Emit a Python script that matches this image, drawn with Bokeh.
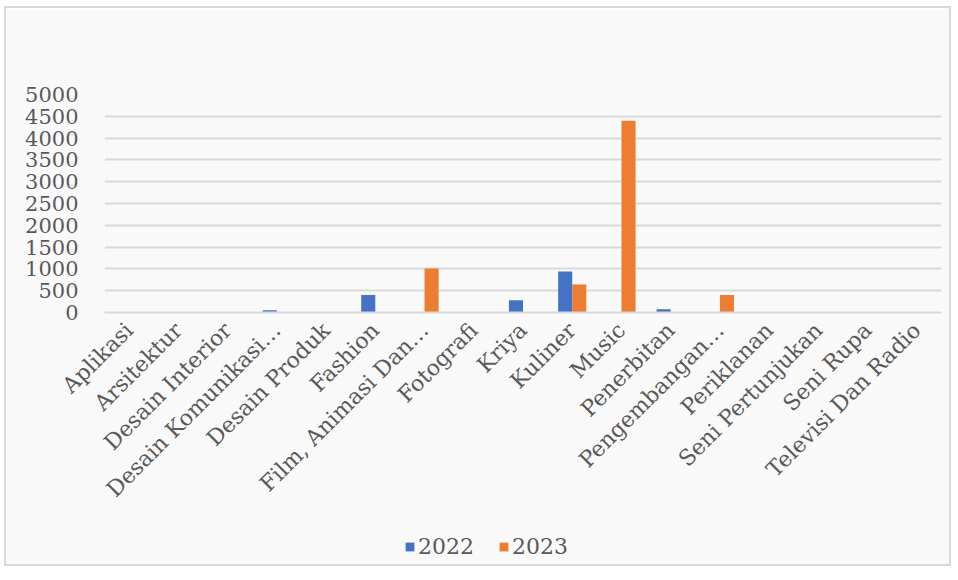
import math
from bokeh.plotting import figure
from bokeh.layouts import column
from bokeh.models import ColumnDataSource, Legend, LegendItem, FactorRange, SingleIntervalTicker
from bokeh.transform import dodge
from bokeh.embed import file_html
from bokeh.resources import INLINE

categories = ["Aplikasi", "Arsitektur", "Desain Interior", "Desain Komunikasi\u2026",
              "Desain Produk", "Fashion", "Film, Animasi Dan\u2026", "Fotografi",
              "Kriya", "Kuliner", "Music", "Penerbitan", "Pengembangan\u2026",
              "Periklanan", "Seni Pertunjukan", "Seni Rupa", "Televisi Dan Radio"]
v2022 = [0, 0, 0, 50, 0, 400, 0, 0, 280, 940, 0, 75, 0, 0, 0, 0, 0]
v2023 = [0, 0, 0, 0, 0, 0, 1010, 0, 0, 640, 4400, 0, 400, 0, 0, 0, 0]
series = ["2022", "2023"]
colors = ["#4472C4", "#ED7D31"]

src = ColumnDataSource(dict(cat=categories, v2022=v2022, v2023=v2023))

FONT = "DejaVu Serif"
TXT = "#595959"
BG = "#F9F9F9"

p = figure(x_range=FactorRange(*categories), y_range=(0, 5000),
           frame_width=833, frame_height=214,
           min_border_left=98, min_border_right=12, min_border_top=86, min_border_bottom=256,
           output_backend="svg", toolbar_location=None,
           background_fill_color=BG, border_fill_color=BG)
p.outline_line_color = None
p.styles = {"border": "2px solid #D9D9D9", "margin": "6px 0 0 4px"}

r1 = p.vbar(x=dodge("cat", -0.143, range=p.x_range), top="v2022", width=0.286,
            source=src, fill_color=colors[0], line_color=None)
r2 = p.vbar(x=dodge("cat", 0.143, range=p.x_range), top="v2023", width=0.286,
            source=src, fill_color=colors[1], line_color=None)

p.xgrid.grid_line_color = None
p.ygrid.grid_line_color = "#D9D9D9"
p.ygrid.grid_line_width = 2
p.yaxis.ticker = SingleIntervalTicker(interval=500)
p.yaxis.axis_line_color = None
p.yaxis.major_tick_line_color = None
p.yaxis.minor_tick_line_color = None
p.yaxis.major_label_standoff = 20
p.yaxis.major_label_text_font = FONT
p.yaxis.major_label_text_font_size = "21px"
p.yaxis.major_label_text_color = TXT

p.xaxis.axis_line_color = "#D9D9D9"
p.xaxis.axis_line_width = 2
p.xaxis.major_tick_line_color = None
p.xaxis.minor_tick_line_color = None
p.xaxis.major_label_orientation = math.pi / 4
p.xaxis.major_label_standoff = 8
p.xaxis.major_label_text_font = FONT
p.xaxis.major_label_text_font_size = "22px"
p.xaxis.major_label_text_color = TXT

# legend strip, overlapping the bottom of the chart
q = figure(x_range=FactorRange(*categories), y_range=(0, 5000),
           width=947, height=40, min_border=0,
           output_backend="svg", toolbar_location=None,
           background_fill_alpha=0, border_fill_alpha=0)
q.outline_line_color = None
q.axis.visible = False
q.grid.visible = False
q.styles = {"margin": "-40px 0 0 4px"}
l1 = q.vbar(x=dodge("cat", -0.143, range=q.x_range), top="v2022", width=0.286,
            source=src, fill_color=colors[0], line_color=None, visible=False)
l2 = q.vbar(x=dodge("cat", 0.143, range=q.x_range), top="v2023", width=0.286,
            source=src, fill_color=colors[1], line_color=None, visible=False)

legend = Legend(items=[LegendItem(label=series[0], renderers=[l1]),
                       LegendItem(label=series[1], renderers=[l2])],
                orientation="horizontal", location=(302, 7),
                label_text_font=FONT, label_text_font_size="22px", label_text_color=TXT,
                glyph_width=11, glyph_height=11, spacing=24, label_standoff=3,
                padding=0, background_fill_alpha=0, border_line_color=None, margin=0)
q.add_layout(legend, "center")

open("out.html", "w").write(file_html(column(p, q, spacing=0), INLINE))
